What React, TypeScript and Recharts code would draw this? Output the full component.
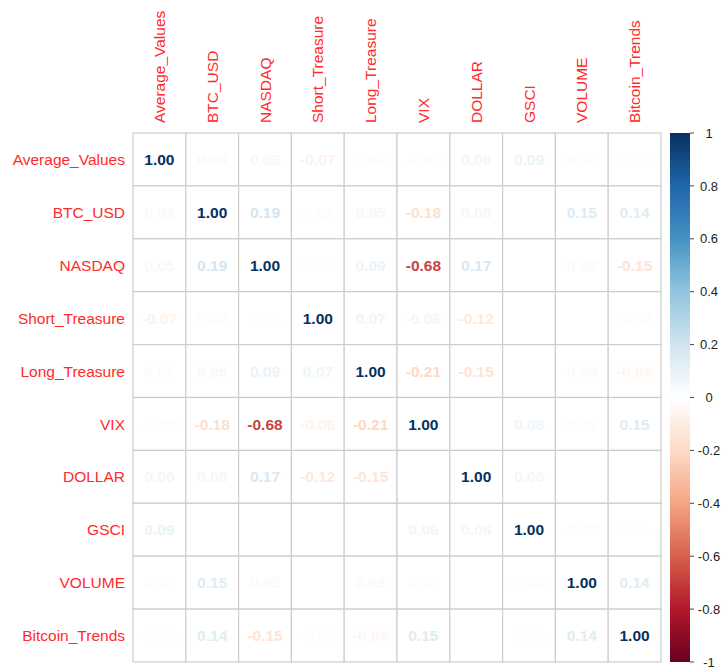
import React from 'react';
import {
  ScatterChart,
  Scatter,
  XAxis,
  YAxis,
  BarChart,
  Bar,
} from 'recharts';

// Variable names, in matrix order
const variables = [
  'Average_Values',
  'BTC_USD',
  'NASDAQ',
  'Short_Treasure',
  'Long_Treasure',
  'VIX',
  'DOLLAR',
  'GSCI',
  'VOLUME',
  'Bitcoin_Trends',
];

// Correlation rows (one per variable, columns in the same order)
const averageValues = [1.0, 0.03, 0.05, -0.07, 0.02, -0.02, 0.06, 0.09, 0.02, -0.01];
const btcUsd = [0.03, 1.0, 0.19, 0.02, 0.05, -0.18, 0.06, 0.0, 0.15, 0.14];
const nasdaq = [0.05, 0.19, 1.0, 0.01, 0.09, -0.68, 0.17, 0.0, 0.03, -0.15];
const shortTreasure = [-0.07, 0.02, 0.01, 1.0, 0.07, -0.06, -0.12, 0.0, 0.0, -0.02];
const longTreasure = [0.02, 0.05, 0.09, 0.07, 1.0, -0.21, -0.15, 0.0, 0.03, -0.05];
const vix = [-0.02, -0.18, -0.68, -0.06, -0.21, 1.0, 0.0, 0.06, 0.02, 0.15];
const dollar = [0.06, 0.06, 0.17, -0.12, -0.15, 0.0, 1.0, 0.06, 0.0, 0.0];
const gsci = [0.09, 0.0, 0.0, 0.0, 0.0, 0.06, 0.06, 1.0, -0.02, 0.01];
const volume = [0.02, 0.15, 0.03, 0.0, 0.03, 0.02, 0.0, -0.02, 1.0, 0.14];
const bitcoinTrends = [-0.01, 0.14, -0.15, -0.02, -0.05, 0.15, 0.0, 0.01, 0.14, 1.0];

const rows = [
  averageValues,
  btcUsd,
  nasdaq,
  shortTreasure,
  longTreasure,
  vix,
  dollar,
  gsci,
  volume,
  bitcoinTrends,
];

// Colour legend: range and ticks
const legendRange = [-1, 1];
const legendTicks = [-1, -0.8, -0.6, -0.4, -0.2, 0, 0.2, 0.4, 0.6, 0.8, 1];

// Diverging red-blue palette, from -1 to 1
const RDBU = [
  '#67001F',
  '#B2182B',
  '#D6604D',
  '#F4A582',
  '#FDDBC7',
  '#FFFFFF',
  '#D1E5F0',
  '#92C5DE',
  '#4393C3',
  '#2166AC',
  '#053061',
];

const FONT = '"Liberation Sans", Arial, Helvetica, sans-serif';
const LABEL_RED = '#FF2A2A';
const GRID = '#cdcdcd';

const W = 724;
const H = 670;
const LEFT = 133;
const TOP = 133;
const RIGHT = 63;
const BOTTOM = 8;
const N = variables.length;
const CELL_W = (W - LEFT - RIGHT) / N;
const CELL_H = (H - TOP - BOTTOM) / N;

const hexToRgb = (h: string) => [
  parseInt(h.slice(1, 3), 16),
  parseInt(h.slice(3, 5), 16),
  parseInt(h.slice(5, 7), 16),
];

const colorFor = (v: number) => {
  const t = ((Math.max(-1, Math.min(1, v)) + 1) / 2) * (RDBU.length - 1);
  const i = Math.min(Math.floor(t), RDBU.length - 2);
  const f = t - i;
  const a = hexToRgb(RDBU[i]);
  const b = hexToRgb(RDBU[i + 1]);
  const c = a.map((x, k) => Math.round(x + (b[k] - x) * f));
  return `rgb(${c[0]},${c[1]},${c[2]})`;
};

const cells = rows.flatMap((row, i) =>
  row.map((v, j) => ({ col: j, row: i, v }))
);

const CellShape = (props: any) => {
  const { cx, cy, payload } = props;
  if (cx == null || cy == null) return null;
  return (
    <g>
      <rect
        x={cx - CELL_W / 2}
        y={cy - CELL_H / 2}
        width={CELL_W}
        height={CELL_H}
        fill="#ffffff"
        stroke={GRID}
        strokeWidth={1.2}
      />
      <text
        x={cx}
        y={cy}
        dy="0.36em"
        textAnchor="middle"
        fontFamily={FONT}
        fontWeight="bold"
        fontSize={15.5}
        fill={colorFor(payload.v)}
      >
        {payload.v.toFixed(2)}
      </text>
    </g>
  );
};

const ColumnTick = (props: any) => {
  const { x, payload } = props;
  const y = TOP - 10;
  return (
    <text
      x={x}
      y={y}
      dy="0.36em"
      transform={`rotate(-90, ${x}, ${y})`}
      textAnchor="start"
      fontFamily={FONT}
      fontSize={15.5}
      fill={LABEL_RED}
    >
      {variables[payload.value]}
    </text>
  );
};

const RowTick = (props: any) => {
  const { y, payload } = props;
  return (
    <text
      x={LEFT - 8}
      y={y}
      dy="0.36em"
      textAnchor="end"
      fontFamily={FONT}
      fontSize={15.5}
      fill={LABEL_RED}
    >
      {variables[payload.value]}
    </text>
  );
};

// Colour bar chart geometry
const BAR_CHART_LEFT = 660;
const BAR_CHART_W = 64;
const BAR_X0 = 10;
const BAR_AXIS_W = 34;
const BAR_BOTTOM = 662;

const LegendTick = (props: any) => {
  const { y, payload } = props;
  const x0 = BAR_CHART_W - BAR_AXIS_W;
  return (
    <g>
      <line x1={x0} x2={x0 + 4} y1={y} y2={y} stroke="#444" strokeWidth={1} />
      <text
        x={x0 + 19}
        y={y}
        dy="0.36em"
        textAnchor="middle"
        fontFamily={FONT}
        fontSize={13}
        fill="#222"
      >
        {String(Math.round(payload.value * 10) / 10)}
      </text>
    </g>
  );
};

const legendData = [{ name: 'scale', range: legendRange }];

export default function App() {
  const ticks = variables.map((_, i) => i);
  return (
    <div
      style={{
        position: 'absolute',
        left: 0,
        top: 0,
        width: W,
        height: H,
        background: '#ffffff',
      }}
    >
      <div style={{ position: 'absolute', left: 0, top: 0 }}>
        <ScatterChart
          width={W}
          height={H}
          margin={{ top: 0, left: 0, right: RIGHT, bottom: BOTTOM }}
        >
          <XAxis
            type="number"
            dataKey="col"
            orientation="top"
            domain={[-0.5, N - 0.5]}
            ticks={ticks}
            interval={0}
            height={TOP}
            axisLine={false}
            tickLine={false}
            tick={<ColumnTick />}
          />
          <YAxis
            type="number"
            dataKey="row"
            reversed
            domain={[-0.5, N - 0.5]}
            ticks={ticks}
            interval={0}
            width={LEFT}
            axisLine={false}
            tickLine={false}
            tick={<RowTick />}
          />
          <Scatter data={cells} shape={<CellShape />} isAnimationActive={false} />
        </ScatterChart>
      </div>
      <div style={{ position: 'absolute', left: BAR_CHART_LEFT, top: 0 }}>
        <BarChart
          width={BAR_CHART_W}
          height={H}
          data={legendData}
          barCategoryGap={0}
          margin={{ top: TOP, left: BAR_X0, right: 0, bottom: H - BAR_BOTTOM }}
        >
          <defs>
            <linearGradient id="rdbuBar" x1="0" y1="1" x2="0" y2="0">
              {RDBU.map((c, i) => (
                <stop
                  key={c}
                  offset={`${(i / (RDBU.length - 1)) * 100}%`}
                  stopColor={c}
                />
              ))}
            </linearGradient>
          </defs>
          <XAxis dataKey="name" hide />
          <YAxis
            type="number"
            orientation="right"
            domain={legendRange}
            ticks={legendTicks}
            interval={0}
            width={BAR_AXIS_W}
            axisLine={false}
            tickLine={false}
            tick={<LegendTick />}
          />
          <Bar dataKey="range" fill="url(#rdbuBar)" isAnimationActive={false} />
        </BarChart>
      </div>
    </div>
  );
}
